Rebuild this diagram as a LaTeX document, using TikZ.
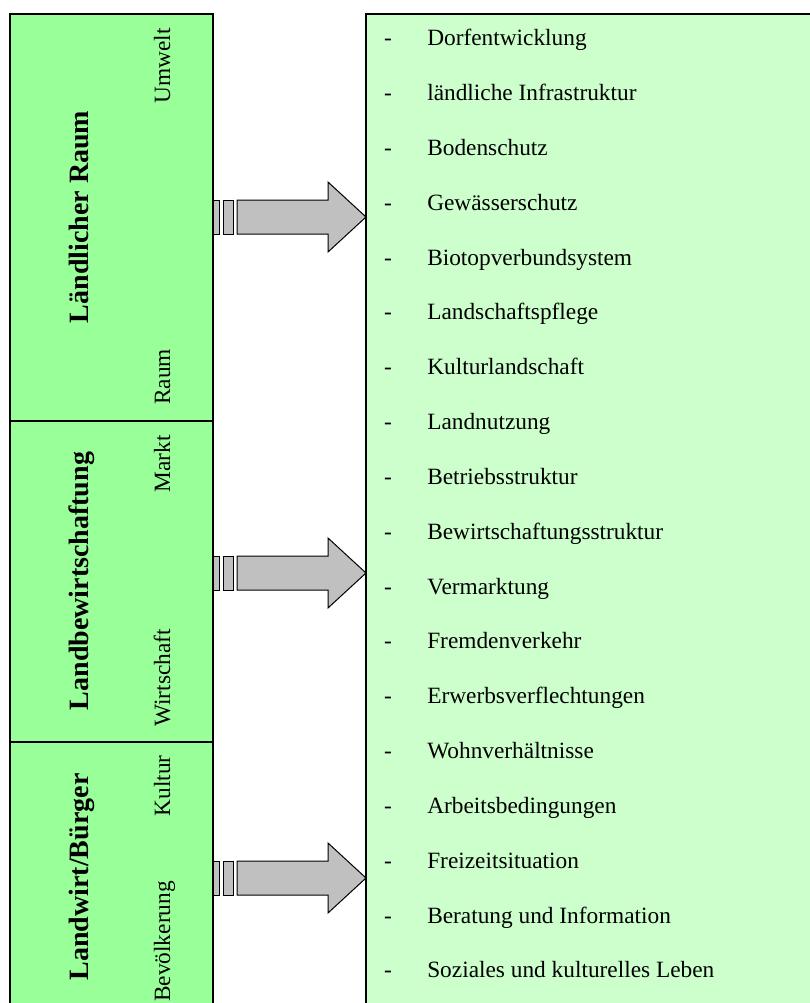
\documentclass[tikz,border=0pt]{standalone}
\usepackage{fontspec}
\setmainfont{Liberation Serif}
\usepackage{tikz}

\definecolor{areagreen}{HTML}{99FF99}
\definecolor{listgreen}{HTML}{CCFFCC}
\definecolor{arrowgray}{HTML}{C0C0C0}

\begin{document}
\begin{tikzpicture}[
    x=0.75pt, y=-0.75pt,
    font=\fontsize{17.5}{21}\selectfont,
    area/.style={draw, line width=1pt, fill=areagreen},
    title/.style={rotate=90, anchor=base, inner sep=0pt, font=\fontsize{21}{25}\selectfont\bfseries},
    aspect/.style={rotate=90, inner sep=0pt},
    flow/.style={draw, line width=0.75pt, fill=arrowgray}
]

\useasboundingbox (0,0) rectangle (810,1003);

\draw[area] (10,14) rectangle (213,421);
\draw[area] (10,421) rectangle (213,742);
\draw[area] (10,742) rectangle (213,1030);

\draw[line width=1pt, fill=listgreen] (366,14) rectangle (830,1030);

\node[title] (raum) at (88,217) {Ländlicher Raum};
\node[aspect, anchor=base east] (umwelt) at (170,28) {Umwelt};
\node[aspect, anchor=base west] (raumlbl) at (170,405) {Raum};

\node[title] (wirtschaft) at (88,581) {Landbewirtschaftung};
\node[aspect, anchor=base east] (markt) at (170,435) {Markt};
\node[aspect, anchor=base west] (wirtlbl) at (170,727) {Wirtschaft};

\node[title] (buerger) at (88,877) {Landwirt/Bürger};
\node[aspect, anchor=base east] (kultur) at (170,755) {Kultur};
\node[aspect, anchor=base west] (bevoelk) at (170,1002) {Bevölkerung};

\foreach \n/\c in {1/217, 2/573, 3/878} {
    \coordinate (out\n) at (213,\c);
    \draw[flow, shift={(out\n)}] (0,-17) rectangle (6,17);
    \draw[flow, shift={(out\n)}] (10,-17) rectangle (20,17);
    \draw[flow, shift={(out\n)}] (24,-17) -- (115,-17) -- (115,-35) -- (153,0)
        -- (115,35) -- (115,17) -- (24,17) -- cycle;
}

\foreach \txt [count=\i from 0] in {
    Dorfentwicklung,
    ländliche Infrastruktur,
    Bodenschutz,
    Gewässerschutz,
    Biotopverbundsystem,
    Landschaftspflege,
    Kulturlandschaft,
    Landnutzung,
    Betriebsstruktur,
    Bewirtschaftungsstruktur,
    Vermarktung,
    Fremdenverkehr,
    Erwerbsverflechtungen,
    Wohnverhältnisse,
    Arbeitsbedingungen,
    Freizeitsituation,
    Beratung und Information,
    Soziales und kulturelles Leben} {
    \node[anchor=base, inner sep=0pt] (dash\i) at (388,45.7+54.84*\i) {-};
    \node[anchor=base west, inner sep=0pt] (item\i) at (427,45.7+54.84*\i) {\txt};
}

\end{tikzpicture}
\end{document}
